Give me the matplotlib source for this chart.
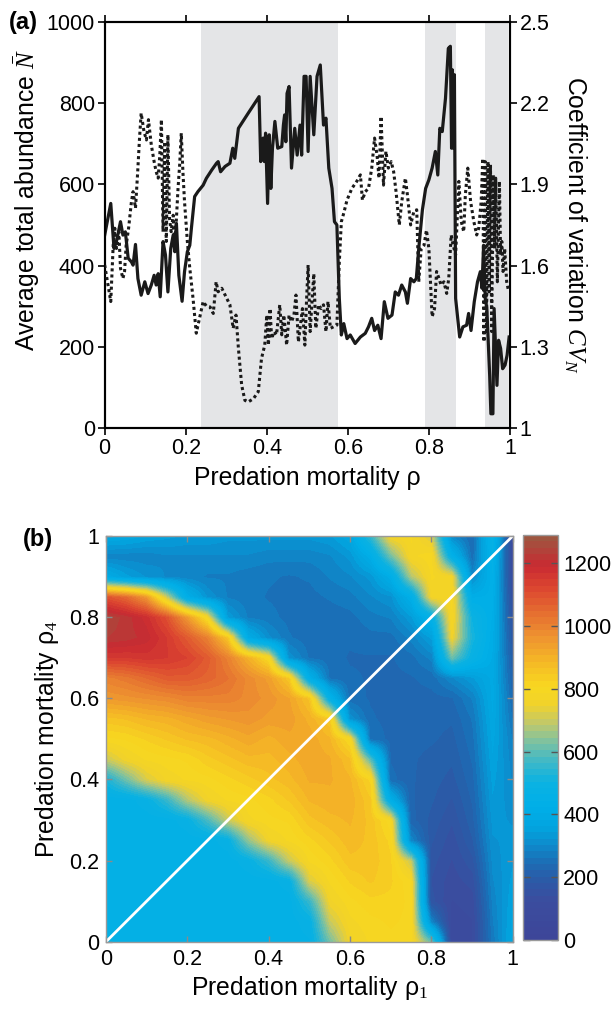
import numpy as np
import matplotlib
matplotlib.use("Agg")
import matplotlib.pyplot as plt
from matplotlib.colors import LinearSegmentedColormap, Normalize

plt.rcParams['font.family'] = ['Liberation Sans', 'DejaVu Sans']
plt.rcParams['mathtext.fontset'] = 'custom'
plt.rcParams['mathtext.rm'] = 'Liberation Serif'
plt.rcParams['mathtext.it'] = 'Liberation Serif:italic'

# ---------------- Panel (a) data ----------------
shaded_ranges = [(0.238, 0.575), (0.790, 0.868), (0.938, 0.996)]

rho_N = [0.000, 0.015, 0.023, 0.029, 0.039, 0.045, 0.051, 0.058, 0.066, 0.070,
         0.076, 0.082, 0.090, 0.099, 0.107, 0.115, 0.122, 0.127, 0.132, 0.137,
         0.144, 0.150, 0.156, 0.163, 0.169, 0.173, 0.177, 0.183, 0.191, 0.197,
         0.204, 0.210, 0.214, 0.222, 0.230, 0.243, 0.251, 0.264, 0.276, 0.280,
         0.286, 0.297, 0.309, 0.316, 0.321, 0.330, 0.354, 0.381, 0.385, 0.391,
         0.394, 0.397, 0.402, 0.406, 0.410, 0.414, 0.420, 0.427, 0.437, 0.441,
         0.444, 0.447, 0.450, 0.455, 0.461, 0.469, 0.475, 0.482, 0.486, 0.492,
         0.497, 0.502, 0.507, 0.516, 0.524, 0.532, 0.540, 0.546, 0.553, 0.561,
         0.567, 0.573, 0.579, 0.584, 0.590, 0.598, 0.606, 0.618, 0.631, 0.643,
         0.651, 0.659, 0.666, 0.674, 0.682, 0.690, 0.699, 0.709, 0.717, 0.725,
         0.733, 0.742, 0.747, 0.755, 0.763, 0.769, 0.775, 0.784, 0.792, 0.800,
         0.808, 0.816, 0.822, 0.827, 0.833, 0.841, 0.848, 0.853, 0.856, 0.858,
         0.861, 0.863, 0.866, 0.876, 0.884, 0.893, 0.898, 0.904, 0.912, 0.920,
         0.927, 0.931, 0.935, 0.939, 0.943, 0.950, 0.953, 0.958, 0.961, 0.968,
         0.972, 0.977, 0.982, 0.988, 0.993, 0.998]
N_mean = [475, 553, 442, 459, 508, 475, 483, 418, 409, 401,
          452, 368, 327, 360, 331, 352, 376, 352, 380, 323,
          459, 426, 335, 442, 475, 434, 504, 376, 312, 385,
          434, 450, 492, 570, 582, 598, 615, 635, 652, 656,
          631, 644, 652, 689, 664, 738, 775, 816, 656, 714,
          656, 726, 553, 722, 590, 689, 755, 689, 693, 746,
          771, 705, 824, 841, 640, 738, 672, 746, 672, 866,
          866, 681, 866, 722, 866, 894, 746, 763, 640, 590,
          508, 500, 319, 229, 257, 220, 229, 208, 224, 233,
          249, 270, 240, 253, 220, 311, 270, 278, 335, 327,
          352, 335, 307, 368, 360, 368, 442, 537, 590, 611,
          640, 681, 623, 738, 730, 812, 935, 940, 689, 882,
          689, 870, 319, 224, 249, 253, 282, 240, 311, 360,
          385, 344, 450, 319, 294, 130, 35, 35, 294, 105,
          216, 196, 146, 155, 179, 224]

rho_CV = [0.000, 0.015, 0.021, 0.025, 0.029, 0.035, 0.039, 0.045, 0.049, 0.053,
          0.059, 0.066, 0.070, 0.076, 0.081, 0.086, 0.090, 0.097, 0.103, 0.108,
          0.115, 0.122, 0.127, 0.132, 0.136, 0.140, 0.144, 0.148, 0.152, 0.156,
          0.160, 0.164, 0.169, 0.173, 0.177, 0.181, 0.185, 0.189, 0.193, 0.197,
          0.204, 0.210, 0.218, 0.226, 0.234, 0.243, 0.251, 0.260, 0.268, 0.275,
          0.280, 0.289, 0.301, 0.309, 0.317, 0.324, 0.330, 0.338, 0.346, 0.354,
          0.367, 0.379, 0.387, 0.395, 0.400, 0.404, 0.408, 0.412, 0.418, 0.424,
          0.432, 0.437, 0.442, 0.449, 0.455, 0.461, 0.467, 0.472, 0.478, 0.482,
          0.488, 0.494, 0.498, 0.502, 0.507, 0.516, 0.521, 0.528, 0.534, 0.540,
          0.546, 0.551, 0.557, 0.565, 0.573, 0.579, 0.584, 0.590, 0.598, 0.610,
          0.622, 0.631, 0.636, 0.643, 0.651, 0.659, 0.666, 0.672, 0.677, 0.682,
          0.688, 0.694, 0.700, 0.707, 0.713, 0.719, 0.727, 0.733, 0.742, 0.747,
          0.755, 0.763, 0.770, 0.775, 0.781, 0.788, 0.794, 0.800, 0.808, 0.814,
          0.819, 0.825, 0.830, 0.837, 0.844, 0.849, 0.855, 0.860, 0.866, 0.874,
          0.880, 0.886, 0.890, 0.896, 0.903, 0.911, 0.918, 0.923, 0.929, 0.933,
          0.936, 0.939, 0.942, 0.946, 0.949, 0.952, 0.955, 0.959, 0.962, 0.965,
          0.969, 0.974, 0.977, 0.980, 0.983, 0.987, 0.992, 0.997]
CV_N = [1.602, 1.467, 1.675, 1.738, 1.663, 1.725, 1.590, 1.552, 1.578, 1.675,
        1.738, 1.836, 1.873, 1.812, 1.935, 2.071, 2.163, 2.095, 2.064, 2.139,
        2.046, 1.984, 1.947, 1.923, 2.008, 2.139, 1.725, 2.058, 1.689, 2.083,
        1.774, 1.725, 1.786, 1.663, 1.774, 1.885, 1.972, 2.089, 1.947, 1.836,
        1.689, 1.590, 1.479, 1.350, 1.405, 1.467, 1.450, 1.447, 1.423, 1.540,
        1.503, 1.516, 1.479, 1.455, 1.368, 1.417, 1.294, 1.158, 1.102, 1.096,
        1.108, 1.134, 1.257, 1.306, 1.417, 1.306, 1.441, 1.330, 1.356, 1.344,
        1.455, 1.344, 1.417, 1.306, 1.417, 1.392, 1.417, 1.491, 1.318, 1.368,
        1.441, 1.306, 1.467, 1.602, 1.356, 1.570, 1.368, 1.455, 1.441, 1.455,
        1.356, 1.467, 1.368, 1.374, 1.380, 1.614, 1.762, 1.794, 1.842, 1.885,
        1.911, 1.935, 1.842, 1.873, 1.885, 1.960, 2.071, 2.008, 1.923, 2.151,
        1.897, 2.022, 1.960, 1.984, 1.947, 1.873, 1.750, 1.836, 1.923, 1.861,
        1.750, 1.800, 1.806, 1.540, 1.663, 1.675, 1.731, 1.663, 1.411, 1.441,
        1.578, 1.552, 1.528, 1.540, 1.497, 1.552, 1.713, 1.675, 1.639, 1.911,
        1.762, 1.725, 1.861, 1.960, 1.836, 1.762, 1.713, 1.738, 1.836, 1.996,
        1.318, 1.984, 1.356, 1.984, 1.503, 1.972, 1.356, 1.935, 1.663, 1.923,
        1.540, 1.911, 1.639, 1.689, 1.578, 1.663, 1.540, 1.503]

x_ticks = [0, 0.2, 0.4, 0.6, 0.8, 1]
x_ticklabels = ['0', '0.2', '0.4', '0.6', '0.8', '1']
N_ticks = [0, 200, 400, 600, 800, 1000]
CV_ticks = [1, 1.3, 1.6, 1.9, 2.2, 2.5]
CV_ticklabels = ['1', '1.3', '1.6', '1.9', '2.2', '2.5']

# ---------------- Panel (b) data ----------------
# grid nodes: rho1 = 0, 0.05, ..., 1 (one list per column); values run over rho4 = 0, 0.05, ..., 1
rho_grid = [round(0.05 * i, 2) for i in range(21)]
col_000 = [450, 450, 450, 450, 450, 450, 450, 450, 520, 700, 800, 860, 950, 1000, 1150, 1230, 1250, 1100, 400, 290, 390]
col_005 = [450, 450, 450, 450, 450, 450, 450, 450, 620, 760, 810, 870, 960, 1020, 1150, 1220, 1220, 1050, 350, 290, 380]
col_010 = [450, 450, 450, 450, 450, 450, 450, 480, 720, 790, 830, 890, 970, 1050, 1160, 1200, 1180, 950, 320, 290, 360]
col_015 = [450, 450, 450, 450, 450, 450, 450, 560, 770, 800, 850, 900, 980, 1080, 1150, 1150, 1100, 700, 300, 300, 350]
col_020 = [450, 450, 450, 450, 450, 450, 480, 680, 790, 810, 870, 920, 1000, 1080, 1130, 1080, 950, 420, 290, 300, 340]
col_025 = [450, 450, 450, 450, 450, 450, 580, 760, 800, 840, 880, 940, 1000, 1060, 1080, 1000, 780, 320, 280, 300, 340]
col_030 = [450, 450, 450, 450, 450, 480, 700, 790, 820, 860, 900, 950, 1000, 1030, 1000, 850, 340, 280, 280, 300, 330]
col_035 = [450, 450, 450, 450, 480, 650, 780, 800, 840, 880, 920, 960, 980, 980, 900, 400, 280, 270, 270, 300, 330]
col_040 = [450, 450, 450, 450, 560, 760, 800, 820, 860, 880, 900, 940, 960, 940, 800, 310, 270, 260, 265, 290, 330]
col_045 = [450, 450, 450, 480, 700, 790, 810, 850, 880, 900, 920, 940, 930, 850, 320, 265, 255, 255, 260, 290, 330]
col_050 = [460, 480, 560, 720, 790, 820, 860, 890, 910, 920, 920, 900, 860, 430, 260, 250, 250, 255, 265, 290, 330]
col_055 = [620, 700, 760, 790, 820, 850, 880, 900, 910, 910, 890, 850, 460, 260, 250, 245, 250, 265, 285, 300, 340]
col_060 = [760, 780, 800, 830, 860, 880, 890, 900, 890, 870, 800, 320, 250, 245, 240, 245, 255, 275, 300, 330, 380]
col_065 = [790, 800, 820, 850, 860, 860, 860, 850, 820, 600, 260, 245, 240, 240, 240, 255, 275, 300, 330, 420, 560]
col_070 = [800, 810, 820, 830, 830, 820, 790, 420, 250, 240, 235, 235, 235, 235, 240, 255, 285, 320, 420, 620, 770]
col_075 = [790, 800, 800, 790, 700, 300, 230, 225, 225, 225, 230, 230, 235, 240, 255, 290, 340, 430, 680, 780, 790]
col_080 = [620, 300, 170, 160, 170, 185, 195, 205, 210, 215, 225, 230, 235, 250, 290, 350, 460, 770, 790, 800, 720]
col_085 = [110, 110, 120, 130, 140, 150, 165, 180, 195, 205, 215, 225, 240, 300, 620, 760, 790, 790, 770, 450, 300]
col_090 = [120, 120, 130, 150, 175, 200, 215, 225, 235, 245, 255, 265, 285, 340, 480, 520, 500, 420, 300, 250, 240]
col_095 = [270, 280, 290, 300, 310, 320, 330, 340, 350, 360, 370, 380, 390, 390, 400, 410, 420, 430, 440, 460, 480]
col_100 = [380, 370, 360, 350, 340, 330, 320, 310, 300, 290, 280, 260, 240, 220, 200, 180, 160, 140, 120, 110, 100]
columns = [col_000, col_005, col_010, col_015, col_020, col_025, col_030, col_035, col_040, col_045,
           col_050, col_055, col_060, col_065, col_070, col_075, col_080, col_085, col_090, col_095, col_100]
diag = [0, 1]
cbar_ticks = [0, 200, 400, 600, 800, 1000, 1200]
cbar_max = 1290

# colormap stops (value, colour)
cmap_values = [0, 120, 190, 240, 300, 350, 420, 500, 570, 630, 690, 750, 810, 890, 970, 1050, 1130, 1200, 1290]
cmap_colors = ['#3d4699', '#3b4d9f', '#2a5ca8', '#1c6db5', '#0d8ccd', '#03a3de', '#00afe8', '#0bb2e2',
               '#41b8c6', '#7cc2a2', '#c0c86c', '#f0d22c', '#f8d820', '#f5b826', '#ee9330', '#e56d30',
               '#dc4530', '#c92a32', '#9e5640']

# ---------------- Figure ----------------
fig = plt.figure(figsize=(6.14, 10.11), dpi=100)
TICK_FS = 15.5
LABEL_FS = 17.8
PANEL_FS = 17

ax1 = fig.add_axes([0.1705, 0.5767, 0.660, 0.4016])
for a, b in shaded_ranges:
    ax1.axvspan(a, b, color='#e4e5e7', lw=0, zorder=0)
ax1.plot(rho_N, N_mean, color='#1a1a1a', lw=2.3, zorder=3)
ax1.set_xlim(0, 1)
ax1.set_ylim(0, 1000)
ax1.set_xticks(x_ticks)
ax1.set_xticklabels(x_ticklabels)
ax1.set_yticks(N_ticks)
ax1.xaxis.set_ticks_position('both')
ax1.tick_params(direction='out', length=5, width=1.2, labelsize=TICK_FS, pad=2)
ax1.set_xlabel('Predation mortality ρ', fontsize=LABEL_FS, labelpad=5)
ax1.set_ylabel(r'Average total abundance $\bar{N}$', fontsize=LABEL_FS)
ax1.yaxis.set_label_coords(-0.155, 0.56)
for s in ax1.spines.values():
    s.set_linewidth(1.5)

ax2 = ax1.twinx()
ax2.plot(rho_CV, CV_N, color='#1a1a1a', lw=2.2, ls=(0, (1, 1)), zorder=3)
ax2.set_ylim(1, 2.5)
ax2.set_xlim(0, 1)
ax2.set_yticks(CV_ticks)
ax2.set_yticklabels(CV_ticklabels)
ax2.tick_params(direction='out', length=5, width=1.2, labelsize=TICK_FS, pad=2)
ax2.set_ylabel(r'Coefficient of variation $CV_N$', fontsize=LABEL_FS, rotation=270, labelpad=28)
for s in ax2.spines.values():
    s.set_linewidth(1.5)

fig.text(0.014, 0.978, '(a)', fontsize=PANEL_FS, fontweight='bold', va='center')

# Panel (b)
Z = np.array(columns, dtype=float).T  # rows = rho4, cols = rho1
cmap = LinearSegmentedColormap.from_list(
    'abund', [(v / cbar_max, c) for v, c in zip(cmap_values, cmap_colors)], N=64)
norm = Normalize(0, cbar_max)

ax3 = fig.add_axes([0.1726, 0.0685, 0.6624, 0.4013])
step = rho_grid[1] - rho_grid[0]
im = ax3.imshow(Z, origin='lower', cmap=cmap, norm=norm, aspect='auto',
                extent=(rho_grid[0] - step / 2, rho_grid[-1] + step / 2,
                        rho_grid[0] - step / 2, rho_grid[-1] + step / 2),
                interpolation='bilinear', interpolation_stage='data')
ax3.plot(diag, diag, color='white', lw=2.0)
ax3.set_xlim(0, 1)
ax3.set_ylim(0, 1)
ax3.set_xticks(x_ticks)
ax3.set_xticklabels(x_ticklabels)
ax3.set_yticks(x_ticks)
ax3.set_yticklabels(x_ticklabels)
ax3.tick_params(direction='in', length=4, width=1, color='#8a8a8a', labelsize=TICK_FS,
                top=True, right=True, pad=5)
for s in ax3.spines.values():
    s.set_color('#9a9a9a')
    s.set_linewidth(1.0)
ax3.set_xlabel(r'Predation mortality ρ$_\mathrm{1}$', fontsize=LABEL_FS, labelpad=3)
ax3.set_ylabel(r'Predation mortality ρ$_\mathrm{4}$', fontsize=LABEL_FS, labelpad=6)

cax = fig.add_axes([0.852, 0.0702, 0.056, 0.4006])
cb = fig.colorbar(im, cax=cax, ticks=cbar_ticks)
cb.outline.set_edgecolor('#9a9a9a')
cb.outline.set_linewidth(1.0)
cax.tick_params(direction='in', length=5, width=1, color='#555555', labelsize=TICK_FS,
                left=True, right=True, pad=4)

fig.text(0.038, 0.466, '(b)', fontsize=PANEL_FS, fontweight='bold', va='center')

fig.savefig('out.png', dpi=100)
